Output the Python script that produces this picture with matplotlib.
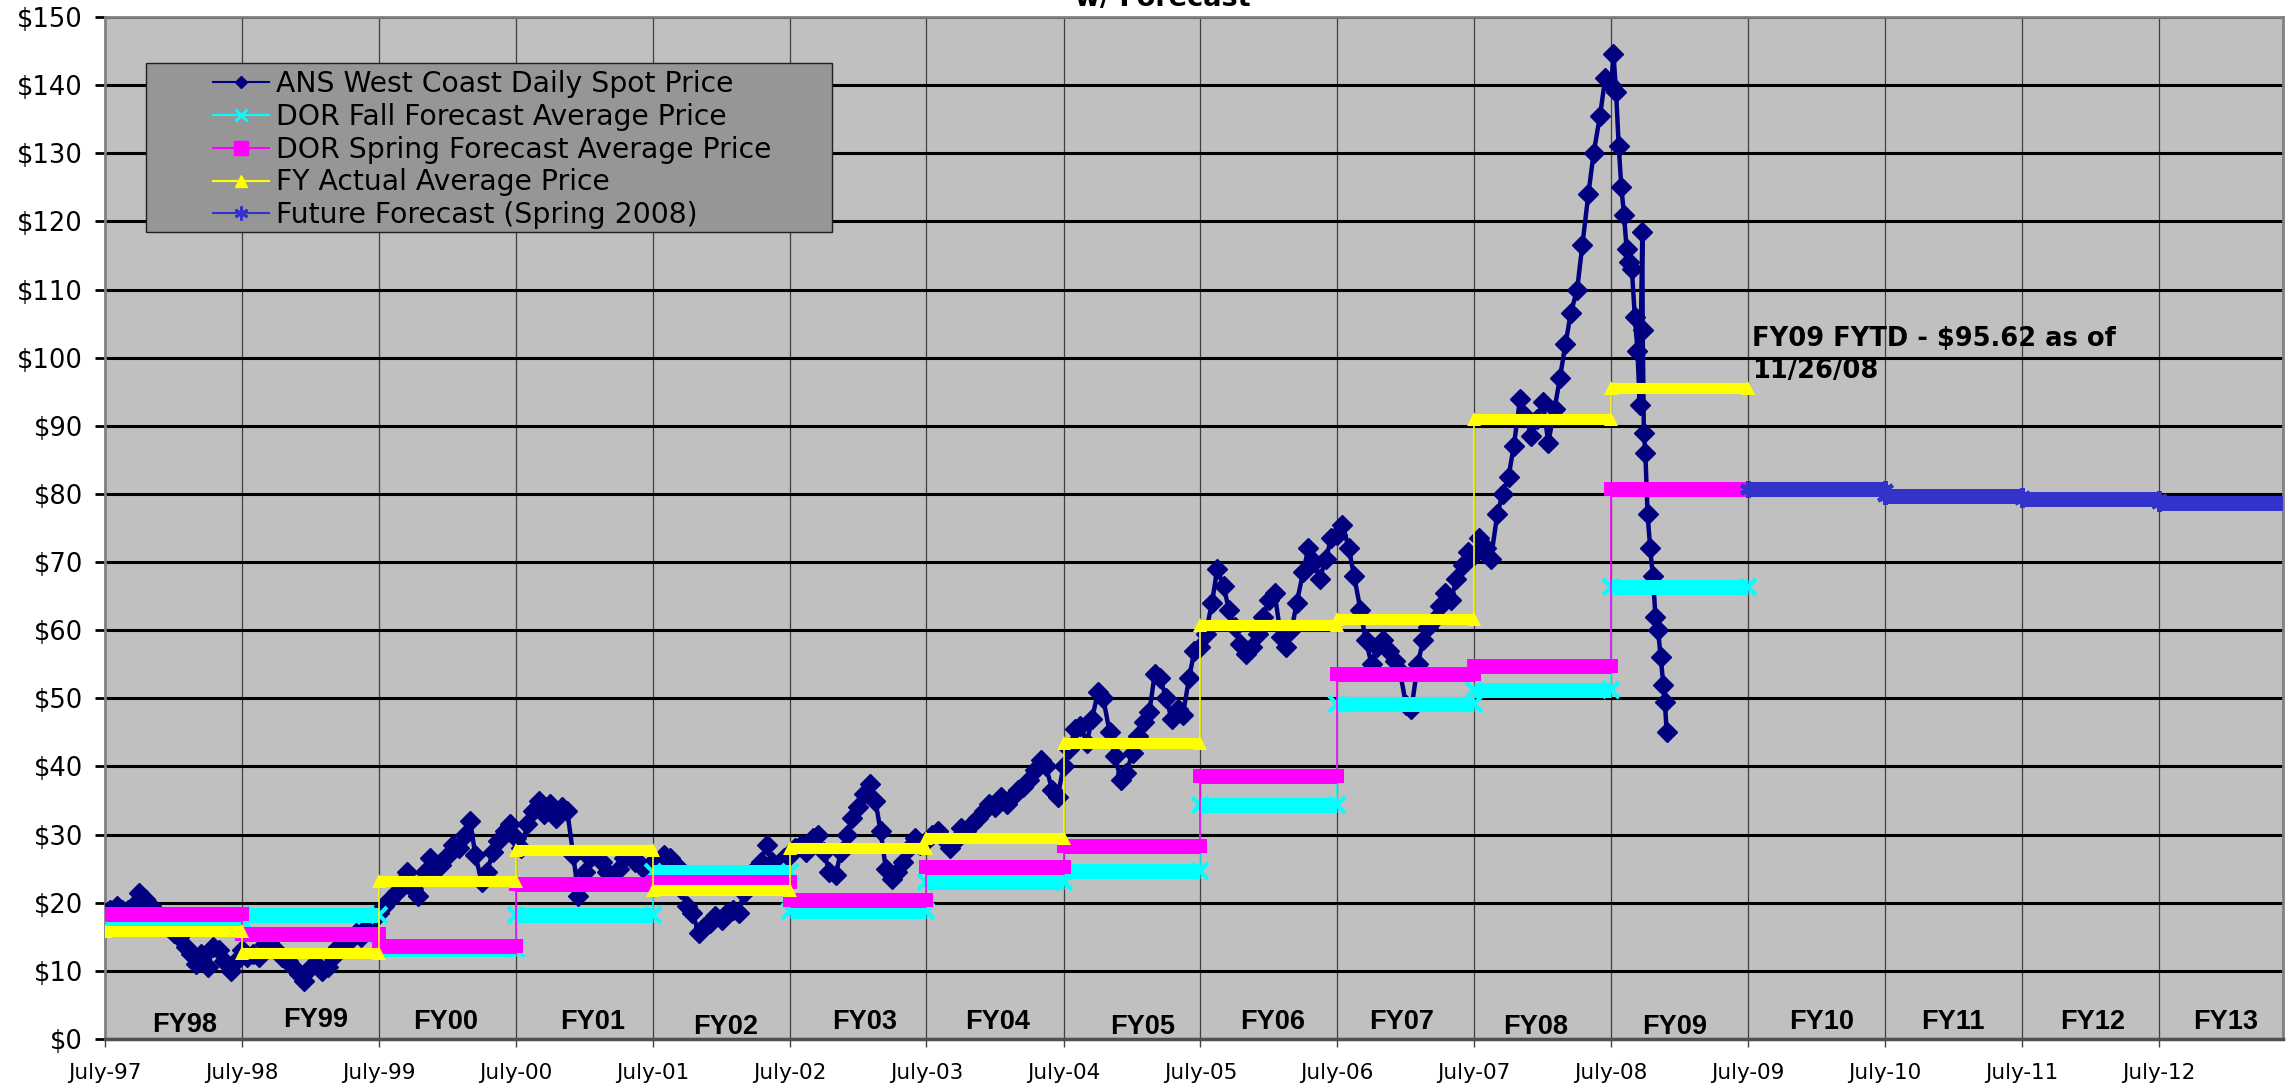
import pandas as pd
import matplotlib.pyplot as plt
from matplotlib.lines import Line2D
from matplotlib.patches import Rectangle

# --- fiscal years (July - June) ---
fy_names = ['FY98', 'FY99', 'FY00', 'FY01', 'FY02', 'FY03', 'FY04', 'FY05',
            'FY06', 'FY07', 'FY08', 'FY09', 'FY10', 'FY11', 'FY12', 'FY13']
fy_start_years = list(range(1997, 2013))

# FY98 .. FY09
fall_forecast = [17.5, 18.2, 13.2, 18.2, 24.5, 18.8, 23.0, 24.6, 34.4, 49.2, 51.2, 66.3]
spring_forecast = [18.4, 15.4, 13.6, 22.8, 23.0, 20.4, 25.3, 28.3, 38.6, 53.6, 54.8, 80.7]
fy_actual = [15.8, 12.6, 23.2, 27.8, 21.8, 28.0, 29.5, 43.5, 60.8, 61.6, 91.0, 95.62]
# FY10 .. FY13
future_forecast = [80.7, 79.7, 79.3, 78.6]

# ANS West Coast spot price, two readings per month (1st / 15th), July .. June
spot_fy98 = [18.5, 19.0, 19.5, 19.0, 19.0, 19.5, 21.5, 20.5, 19.5, 18.5, 17.5, 16.5,
             15.5, 15.0, 13.5, 12.5, 11.0, 12.5, 10.5, 13.5, 13.0, 11.5, 10.0, 11.5]
spot_fy99 = [13.0, 12.0, 12.5, 12.0, 14.0, 14.5, 13.0, 12.0, 11.5, 10.5, 9.5, 8.5,
             10.5, 11.0, 10.0, 10.5, 12.0, 13.5, 14.0, 14.5, 15.5, 15.0, 16.5, 17.5]
spot_fy00 = [18.5, 19.5, 20.5, 21.5, 23.0, 24.5, 22.0, 21.0, 24.5, 26.5, 25.0, 25.5,
             27.0, 28.5, 28.0, 30.0, 32.0, 27.0, 23.0, 24.5, 27.5, 29.0, 30.5, 31.5]
spot_fy01 = [29.5, 28.0, 31.5, 33.5, 35.0, 33.0, 34.5, 32.5, 34.0, 33.5, 27.0, 21.0,
             24.5, 26.5, 27.0, 26.0, 24.5, 23.5, 25.0, 26.5, 27.0, 26.0, 25.5, 24.5]
spot_fy02 = [26.0, 25.5, 27.0, 26.5, 25.5, 22.0, 19.5, 18.5, 15.5, 16.5, 17.0, 18.0,
             17.5, 18.5, 19.0, 18.5, 21.5, 23.5, 25.0, 26.0, 28.5, 26.0, 25.0, 26.5]
spot_fy03 = [27.0, 28.0, 28.5, 27.5, 29.5, 30.0, 27.5, 24.5, 24.0, 27.5, 30.0, 32.5,
             34.0, 36.0, 37.5, 35.0, 30.5, 25.0, 23.5, 24.5, 26.0, 28.0, 29.5, 28.5]
spot_fy04 = [29.0, 30.0, 30.5, 29.5, 28.0, 29.0, 31.0, 30.5, 31.5, 32.5, 33.5, 34.5,
             34.0, 35.5, 34.5, 35.5, 36.5, 37.0, 38.0, 39.5, 41.0, 40.0, 36.5, 35.5]
spot_fy05 = [40.0, 42.5, 45.5, 46.0, 43.5, 47.0, 51.0, 50.0, 45.0, 41.5, 38.0, 39.0,
             42.0, 44.5, 46.5, 48.0, 53.5, 53.0, 50.0, 47.0, 48.5, 47.5, 53.0, 57.0]
spot_fy06 = [57.5, 59.5, 64.0, 69.0, 66.5, 63.0, 60.5, 58.0, 56.5, 57.5, 59.5, 62.0,
             64.5, 65.5, 59.0, 57.5, 60.0, 64.0, 68.5, 72.0, 70.0, 67.5, 70.5, 73.5]
spot_fy07 = [74.0, 75.5, 72.0, 68.0, 63.0, 58.5, 55.0, 57.5, 58.5, 57.0, 55.5, 54.0,
             49.0, 48.5, 55.0, 58.5, 60.5, 61.5, 63.5, 65.5, 64.5, 67.5, 69.5, 71.5]
spot_fy08 = [71.0, 73.5, 72.0, 70.5, 77.0, 80.0, 82.5, 87.0, 94.0, 91.5, 88.5, 91.0,
             93.5, 87.5, 92.5, 97.0, 102.0, 106.5, 110.0, 116.5, 124.0, 130.0, 135.5, 141.0]
spot_tail_dates = ['2008-07-01', '2008-07-07', '2008-07-14', '2008-07-21', '2008-07-28',
                   '2008-08-04', '2008-08-11', '2008-08-18', '2008-08-25', '2008-09-02',
                   '2008-09-09', '2008-09-15', '2008-09-22', '2008-09-23', '2008-09-26',
                   '2008-09-30', '2008-10-06', '2008-10-13', '2008-10-20', '2008-10-27',
                   '2008-11-03', '2008-11-10', '2008-11-17', '2008-11-21', '2008-11-26']
spot_tail = [140.0, 144.5, 139.0, 131.0, 125.0, 121.0, 116.0, 114.0, 113.0, 106.0,
             101.0, 93.0, 118.5, 104.0, 89.0, 86.0, 77.0, 72.0, 68.0, 62.0,
             60.0, 56.0, 52.0, 49.5, 45.0]

x_tick_labels = ['July-97', 'July-98', 'July-99', 'July-00', 'July-01', 'July-02',
                 'July-03', 'July-04', 'July-05', 'July-06', 'July-07', 'July-08',
                 'July-09', 'July-10', 'July-11', 'July-12']
y_ticks = list(range(0, 151, 10))
y_tick_labels = [f'${v}' for v in y_ticks]

# label layout (fraction of year after July, height in $)
fy_label_offset = [0.58, 0.54, 0.49, 0.56, 0.53, 0.55, 0.52, 0.58,
                   0.53, 0.47, 0.45, 0.46, 0.54, 0.50, 0.52, 0.49]
fy_label_y = [2.0, 2.8, 2.5, 2.5, 1.8, 2.5, 2.5, 1.8,
              2.5, 2.5, 1.8, 1.8, 2.5, 2.5, 2.5, 2.5]

# --- build date axes ---
fy_start = pd.to_datetime([f'{y}-07-01' for y in fy_start_years])
fy_end = pd.to_datetime([f'{y + 1}-07-01' for y in fy_start_years])

spot_dates = pd.date_range('1997-07-01', '2008-06-30', freq='SMS').append(pd.to_datetime(spot_tail_dates))
spot_values = (spot_fy98 + spot_fy99 + spot_fy00 + spot_fy01 + spot_fy02 + spot_fy03 +
               spot_fy04 + spot_fy05 + spot_fy06 + spot_fy07 + spot_fy08 + spot_tail)

NAVY = '#000080'
CYAN = '#00FFFF'
MAGENTA = '#FF00FF'
YELLOW = '#FFFF00'
BLUE = '#3333CC'

fig = plt.figure(figsize=(22.92, 10.89), dpi=100)
ax = fig.add_axes([105 / 2292, 50 / 1089, 2178 / 2292, 1022 / 1089])
ax.set_facecolor('#C0C0C0')


def draw_fy_steps(values, starts, ends, color, band_lw, marker, ms, mew, z):
    xs = list(starts) + [ends[-1]]
    ys = list(values) + [values[-1]]
    ax.step(xs, ys, where='post', color=color, lw=1.2, zorder=z - 0.1)
    ax.hlines(values, starts, ends, colors=color, lw=band_lw, capstyle='butt', zorder=z)
    for xpts in (starts, ends):
        ax.plot(xpts, values, ls='none', marker=marker, ms=ms, mew=mew,
                color=color, mfc=color, mec=color, zorder=z)


# spot price
ax.plot(spot_dates, spot_values, color=NAVY, lw=3.2, marker='D', ms=10, mec=NAVY, zorder=3)

n = len(fy_actual)
draw_fy_steps(fall_forecast, fy_start[:n], fy_end[:n], CYAN, 10.8, 'x', 11, 3, 4)
draw_fy_steps(spring_forecast, fy_start[:n], fy_end[:n], MAGENTA, 10.8, 's', 10.5, 0, 5)
draw_fy_steps(fy_actual, fy_start[:n], fy_end[:n], YELLOW, 8, '^', 10, 0, 6)
draw_fy_steps(future_forecast, fy_start[n:], fy_end[n:], BLUE, 10.8, (6, 2, 0), 12, 3, 7)

# FY labels
for name, start, off, yv in zip(fy_names, fy_start, fy_label_offset, fy_label_y):
    ax.text(start + pd.Timedelta(days=off * 365), yv, name, ha='center', va='center',
            fontsize=19.5, fontweight='bold', family=['Liberation Sans', 'DejaVu Sans'], zorder=8)

ax.text(pd.Timestamp('2009-07-12'), 104.6, 'FY09 FYTD - $95.62 as of\n11/26/08',
        ha='left', va='top', fontsize=18.5, fontweight='bold', linespacing=1.3, zorder=8)

# axes formatting
ax.set_xlim(pd.Timestamp('1997-07-01'), pd.Timestamp('2013-05-28'))
ax.set_ylim(0, 150)
ax.set_xticks(fy_start)
ax.set_xticklabels(x_tick_labels)
ax.set_yticks(y_ticks)
ax.set_yticklabels(y_tick_labels)
ax.set_axisbelow(True)
ax.grid(axis='y', color='black', lw=2.2)
ax.grid(axis='x', color='#404040', lw=0.9)
ax.tick_params(axis='y', length=7, width=2, color='black', pad=9, labelsize=18.5)
ax.tick_params(axis='x', length=6, width=1, color='#404040', pad=11, labelsize=15.5)
for side in ('top', 'right', 'left'):
    ax.spines[side].set_color('#808080')
    ax.spines[side].set_linewidth(2)
ax.spines['bottom'].set_color('#505050')
ax.spines['bottom'].set_linewidth(2.5)

# title (mostly above the top edge, as in the source image)
fig.text(1163 / 2292, 1 - 6.5 / 1089, 'w/ Forecast', ha='center', va='baseline',
         fontsize=19.5, fontweight='bold')

# legend box
fig.add_artist(Rectangle((146 / 2292, 1 - 232 / 1089), 686 / 2292, 169 / 1089,
                         transform=fig.transFigure, facecolor='#969696',
                         edgecolor='#202020', lw=1, zorder=4))
handles = [
    Line2D([], [], color=NAVY, lw=1.5, marker='D', ms=6, label='ANS West Coast Daily Spot Price'),
    Line2D([], [], color=CYAN, lw=1.5, marker='x', ms=9, mew=2, label='DOR Fall Forecast Average Price'),
    Line2D([], [], color=MAGENTA, lw=1.5, marker='s', ms=10, label='DOR Spring Forecast Average Price'),
    Line2D([], [], color=YELLOW, lw=1.5, marker='^', ms=8, label='FY Actual Average Price'),
    Line2D([], [], color=BLUE, lw=1.5, marker=(6, 2, 0), ms=10, mew=2, label='Future Forecast (Spring 2008)'),
]
leg = fig.legend(handles=handles, loc='upper left', bbox_to_anchor=(213 / 2292, 1 - 70 / 1089),
                 frameon=False, fontsize=20.3, handlelength=2.0, handletextpad=0.25,
                 labelspacing=0.17, borderpad=0, borderaxespad=0)
leg.set_zorder(5)

fig.savefig('out.png', dpi=100)
